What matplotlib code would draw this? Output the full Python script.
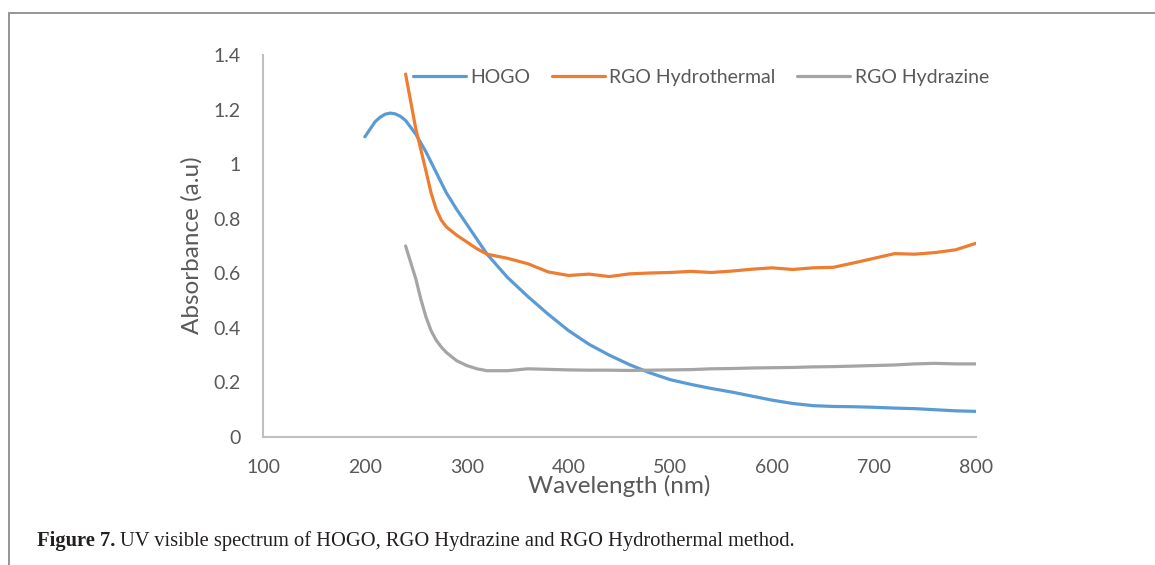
import matplotlib.pyplot as plt
from matplotlib.patches import Rectangle
from matplotlib.ticker import FuncFormatter

# Spectra (wavelength in nm, absorbance in a.u.)
hogo_wl = [200, 210, 215, 220, 225, 230, 235, 240, 250, 260, 270, 280, 290, 300, 320,
           340, 360, 380, 400, 420, 440, 460, 480, 500, 520, 540, 560, 580, 600, 620,
           640, 660, 680, 700, 720, 740, 760, 780, 800]
hogo_abs = [1.10, 1.155, 1.172, 1.183, 1.187, 1.184, 1.175, 1.16, 1.11, 1.045, 0.97,
            0.895, 0.835, 0.78, 0.67, 0.585, 0.515, 0.45, 0.39, 0.34, 0.30, 0.265,
            0.235, 0.21, 0.193, 0.178, 0.165, 0.15, 0.135, 0.123, 0.115, 0.112, 0.111,
            0.109, 0.106, 0.104, 0.10, 0.096, 0.094]

hydro_wl = [240, 250, 260, 265, 270, 275, 280, 290, 300, 310, 320, 340, 360, 380, 400,
            420, 440, 460, 480, 500, 520, 540, 560, 580, 600, 620, 640, 660, 680, 700,
            720, 740, 760, 780, 800]
hydro_abs = [1.33, 1.13, 0.975, 0.895, 0.835, 0.795, 0.77, 0.74, 0.715, 0.69, 0.67,
             0.655, 0.635, 0.605, 0.592, 0.597, 0.588, 0.598, 0.601, 0.603, 0.607,
             0.603, 0.608, 0.615, 0.62, 0.614, 0.62, 0.622, 0.638, 0.655, 0.672, 0.67,
             0.676, 0.686, 0.71]

hydraz_wl = [240, 250, 255, 260, 265, 270, 275, 280, 290, 300, 310, 320, 340, 360, 380,
             400, 420, 440, 460, 480, 500, 520, 540, 560, 580, 600, 620, 640, 660, 680,
             700, 720, 740, 760, 780, 800]
hydraz_abs = [0.70, 0.58, 0.505, 0.44, 0.39, 0.355, 0.33, 0.31, 0.28, 0.262, 0.25,
              0.243, 0.243, 0.25, 0.248, 0.246, 0.245, 0.245, 0.244, 0.245, 0.246,
              0.247, 0.25, 0.251, 0.253, 0.254, 0.255, 0.257, 0.258, 0.26, 0.262,
              0.264, 0.268, 0.27, 0.268, 0.268]

x_ticks = [100, 200, 300, 400, 500, 600, 700, 800]
y_ticks = [0, 0.2, 0.4, 0.6, 0.8, 1.0, 1.2, 1.4]

text_col = "#595959"
axis_col = "#BFBFBF"

fig = plt.figure(figsize=(11.55, 5.65), dpi=100)
ax = fig.add_axes([0.2277, 0.2265, 0.6173, 0.6762])

lw = 2.3
ax.plot(hogo_wl, hogo_abs, color="#5B9BD5", lw=lw, label="HOGO", solid_capstyle="round")
ax.plot(hydro_wl, hydro_abs, color="#ED7D31", lw=lw, label="RGO Hydrothermal", solid_capstyle="round")
ax.plot(hydraz_wl, hydraz_abs, color="#A5A5A5", lw=lw, label="RGO Hydrazine", solid_capstyle="round")

ax.set_xlim(100, 800)
ax.set_ylim(0, 1.4)
ax.set_xticks(x_ticks)
ax.set_yticks(y_ticks)
ax.yaxis.set_major_formatter(FuncFormatter(lambda v, p: f"{v:g}"))

for s in ["top", "right"]:
    ax.spines[s].set_visible(False)
for s in ["left", "bottom"]:
    ax.spines[s].set_color(axis_col)
    ax.spines[s].set_linewidth(1.5)

ax.tick_params(axis="both", length=0, labelsize=14, labelcolor=text_col)
ax.tick_params(axis="y", pad=16)
ax.tick_params(axis="x", pad=16)
for lab in ax.get_xticklabels() + ax.get_yticklabels():
    lab.set_fontfamily("Lato")

ax.set_xlabel("Wavelength (nm)", fontsize=17.5, color=text_col, family="Lato")
ax.set_ylabel("Absorbance (a.u)", fontsize=17.5, color=text_col, family="Lato")
ax.xaxis.set_label_coords(0.5, -0.098)
ax.yaxis.set_label_coords(-0.085, 0.503)

leg = fig.legend(loc="center", bbox_to_anchor=(0.607, 0.863), ncol=3, frameon=False,
                 handlelength=2.7, handletextpad=0.25, columnspacing=1.1,
                 prop={"family": "Lato", "size": 14})
for t in leg.get_texts():
    t.set_color(text_col)

# outer frame of the figure panel
frame = Rectangle((9 / 1155, -0.1), 1.2, (565 - 13) / 565 + 0.1, transform=fig.transFigure,
                  fill=False, edgecolor="#8C8C8C", lw=1.3)
fig.patches.append(frame)

# caption
cap_y = 1 - 541 / 565
bold = fig.text(37 / 1155, cap_y, "Figure 7.", fontsize=14.8, fontweight="bold",
                family="Liberation Serif", va="center", color="#231F20")
fig.canvas.draw()
bb = bold.get_window_extent()
fig.text((bb.x1 + 5) / 1155, cap_y,
         "UV visible spectrum of HOGO, RGO Hydrazine and RGO Hydrothermal method.",
         fontsize=14.8, family="Liberation Serif", va="center", color="#231F20")

fig.savefig("out.png", dpi=100)
